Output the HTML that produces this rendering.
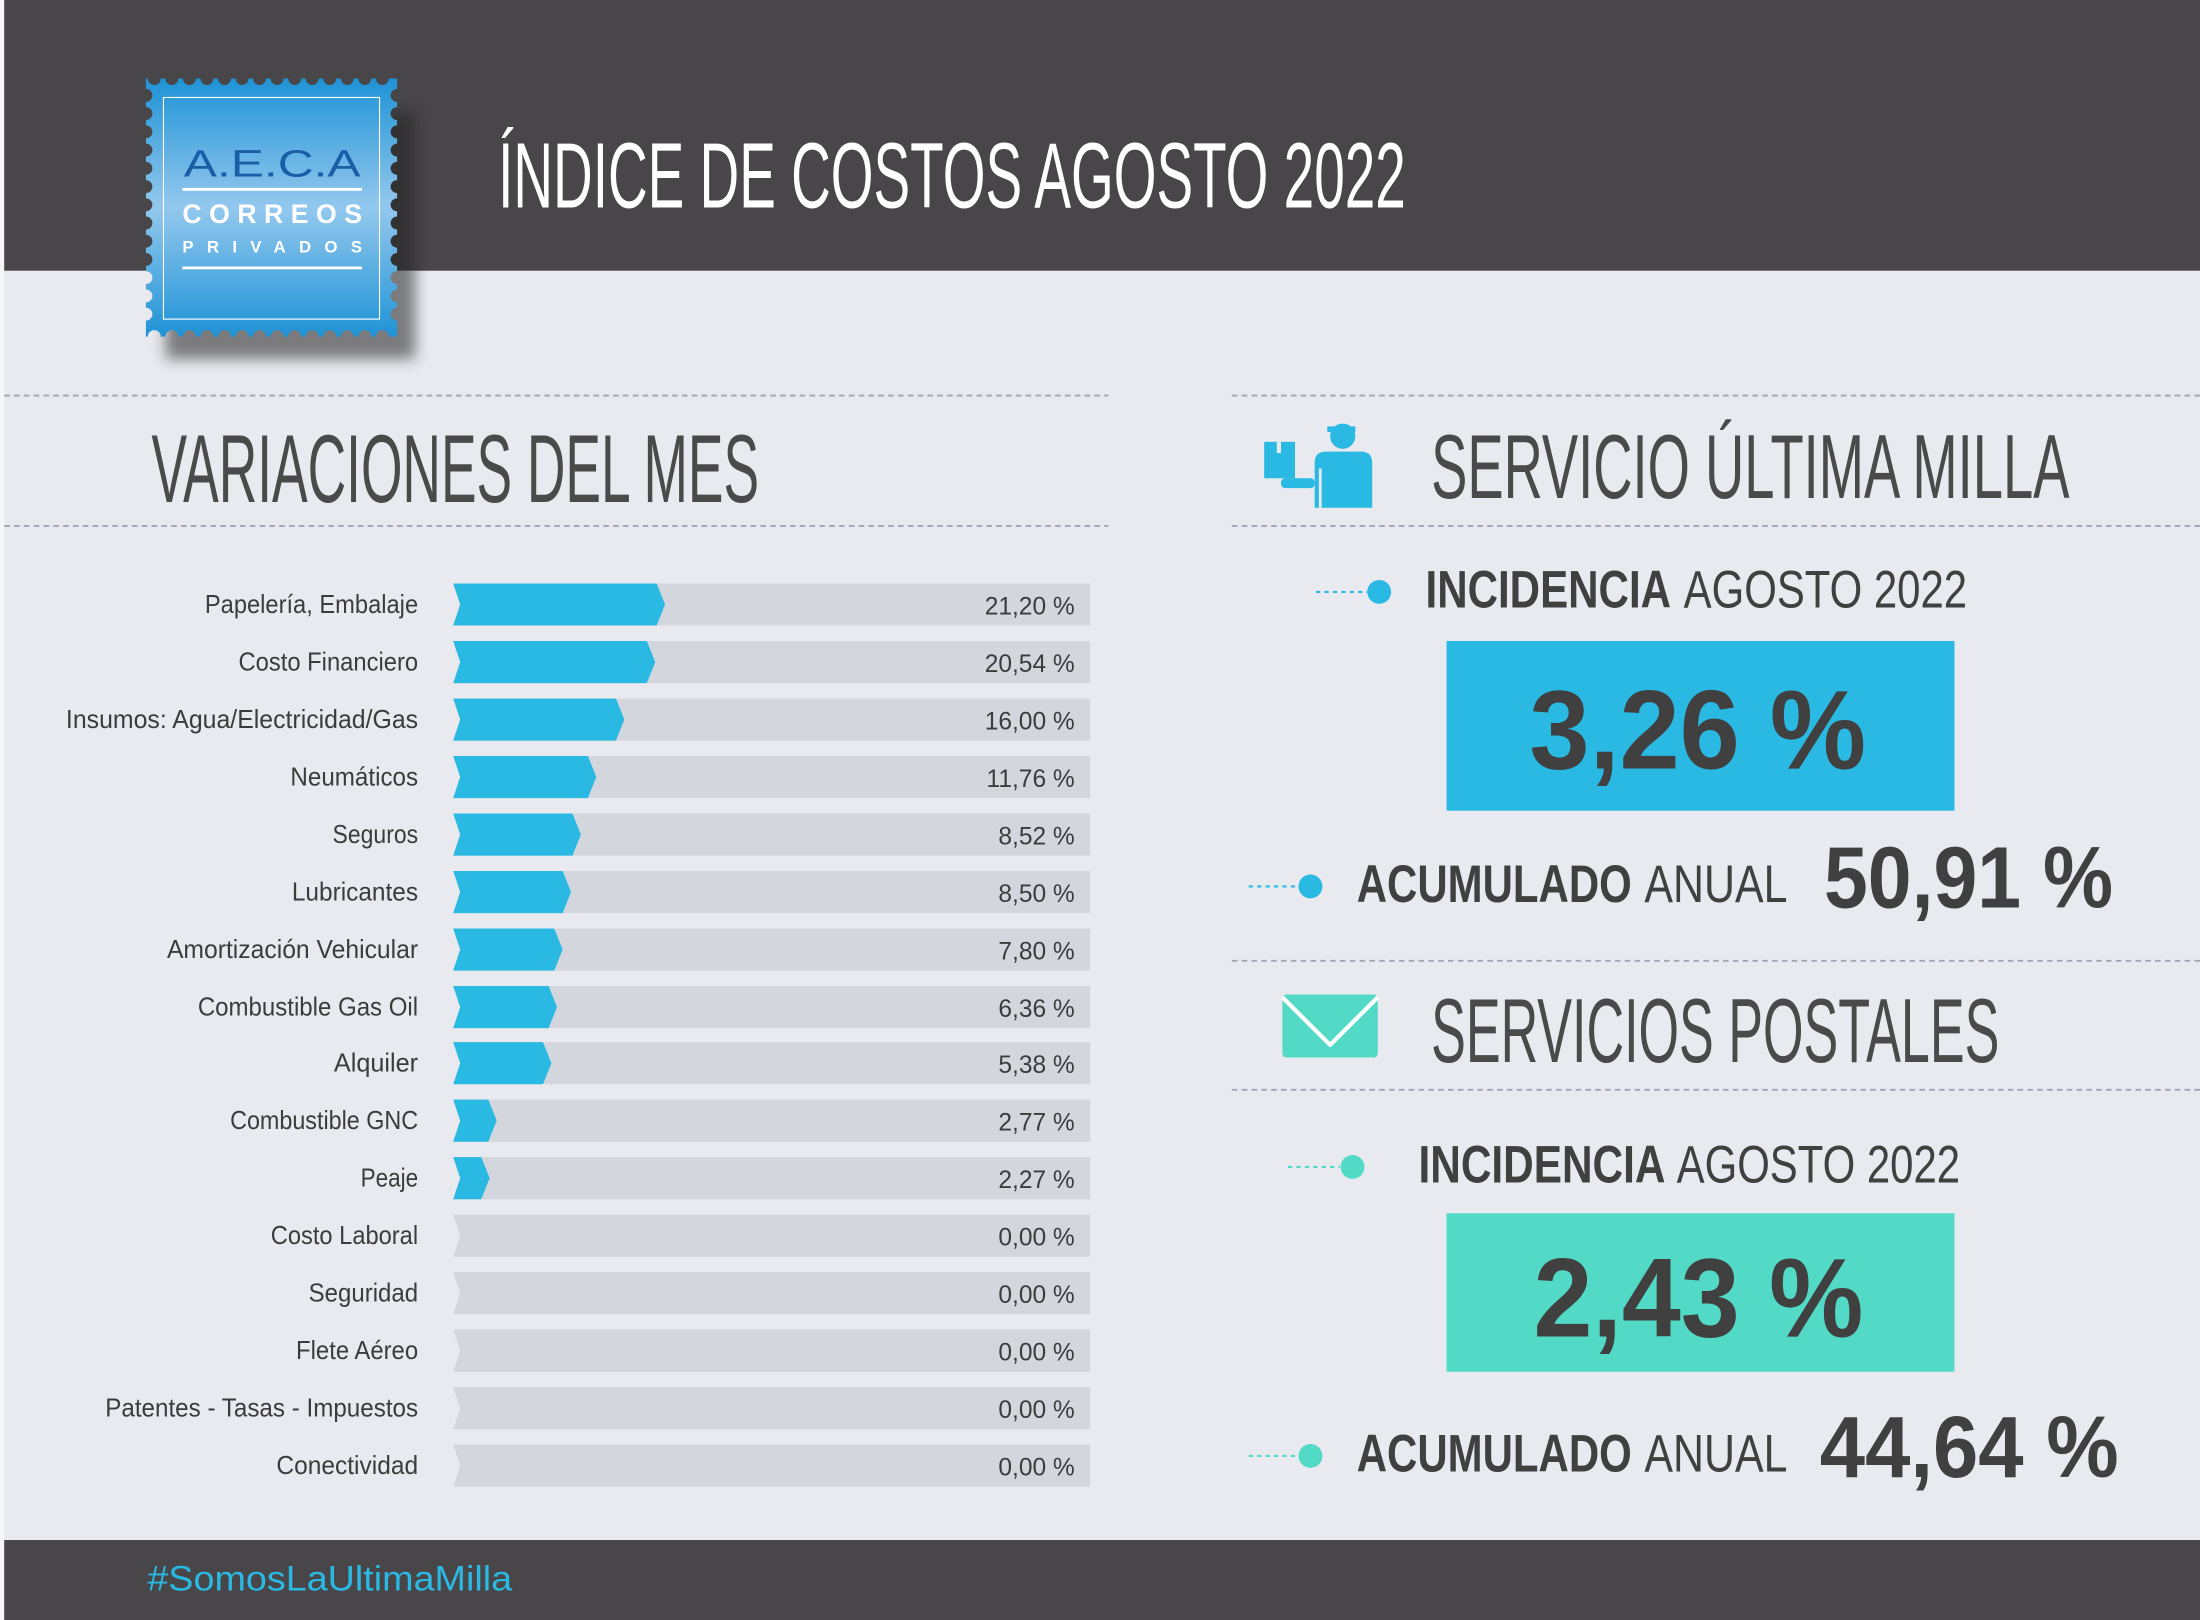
<!DOCTYPE html>
<html><head><meta charset="utf-8"><style>
html,body{margin:0;padding:0;background:#e9eaef;}
svg{display:block;}
text{font-family:"Liberation Sans Narrow","Liberation Sans",sans-serif;}
</style></head><body>
<svg width="2200" height="1620" viewBox="0 0 1568 1155" preserveAspectRatio="none" xmlns="http://www.w3.org/2000/svg">
<defs>
<linearGradient id="sg" x1="0" y1="0" x2="0" y2="1">
<stop offset="0" stop-color="#1f93d6"/><stop offset="0.5" stop-color="#93c8ee"/><stop offset="1" stop-color="#1f93d6"/>
</linearGradient>
<filter id="sh" x="-30%" y="-30%" width="160%" height="160%"><feGaussianBlur stdDeviation="5"/></filter>
<mask id="perf2">
<rect x="100" y="50" width="190" height="200" fill="#fff"/>
<g fill="#000">
<circle cx="110" cy="56" r="4.6"/><circle cx="122.5" cy="56" r="4.6"/><circle cx="135" cy="56" r="4.6"/><circle cx="147.5" cy="56" r="4.6"/><circle cx="160" cy="56" r="4.6"/><circle cx="172.5" cy="56" r="4.6"/><circle cx="185" cy="56" r="4.6"/><circle cx="197.5" cy="56" r="4.6"/><circle cx="210" cy="56" r="4.6"/><circle cx="222.5" cy="56" r="4.6"/><circle cx="235" cy="56" r="4.6"/><circle cx="247.5" cy="56" r="4.6"/><circle cx="260" cy="56" r="4.6"/><circle cx="272.5" cy="56" r="4.6"/>
<circle cx="110" cy="240" r="4.6"/><circle cx="122.5" cy="240" r="4.6"/><circle cx="135" cy="240" r="4.6"/><circle cx="147.5" cy="240" r="4.6"/><circle cx="160" cy="240" r="4.6"/><circle cx="172.5" cy="240" r="4.6"/><circle cx="185" cy="240" r="4.6"/><circle cx="197.5" cy="240" r="4.6"/><circle cx="210" cy="240" r="4.6"/><circle cx="222.5" cy="240" r="4.6"/><circle cx="235" cy="240" r="4.6"/><circle cx="247.5" cy="240" r="4.6"/><circle cx="260" cy="240" r="4.6"/><circle cx="272.5" cy="240" r="4.6"/>
<circle cx="104" cy="68" r="4.6"/><circle cx="104" cy="81" r="4.6"/><circle cx="104" cy="94" r="4.6"/><circle cx="104" cy="107" r="4.6"/><circle cx="104" cy="120" r="4.6"/><circle cx="104" cy="133" r="4.6"/><circle cx="104" cy="146" r="4.6"/><circle cx="104" cy="159" r="4.6"/><circle cx="104" cy="172" r="4.6"/><circle cx="104" cy="185" r="4.6"/><circle cx="104" cy="198" r="4.6"/><circle cx="104" cy="211" r="4.6"/><circle cx="104" cy="224" r="4.6"/>
<circle cx="283" cy="68" r="4.6"/><circle cx="283" cy="81" r="4.6"/><circle cx="283" cy="94" r="4.6"/><circle cx="283" cy="107" r="4.6"/><circle cx="283" cy="120" r="4.6"/><circle cx="283" cy="133" r="4.6"/><circle cx="283" cy="146" r="4.6"/><circle cx="283" cy="159" r="4.6"/><circle cx="283" cy="172" r="4.6"/><circle cx="283" cy="185" r="4.6"/><circle cx="283" cy="198" r="4.6"/><circle cx="283" cy="211" r="4.6"/><circle cx="283" cy="224" r="4.6"/>
</g>
</mask>
</defs>
<rect x="0" y="0" width="1568" height="1155" fill="#e9eaef"/>
<rect x="0" y="0" width="3" height="1155" fill="#f6f6f8"/>
<rect x="3" y="0" width="1565" height="193" fill="#484648"/>
<rect x="3" y="1098" width="1565" height="57" fill="#484648"/>
<text x="105" y="1134" font-size="25" fill="#29b9e3" textLength="260" lengthAdjust="spacingAndGlyphs" style="font-family:'Liberation Sans',sans-serif">#SomosLaUltimaMilla</text>

<rect x="118" y="80" width="178" height="176" fill="#222" opacity="0.55" filter="url(#sh)"/>
<rect x="104" y="56" width="179" height="184" fill="url(#sg)" mask="url(#perf2)"/>
<rect x="116.5" y="69.5" width="154" height="158" fill="none" stroke="#fff" stroke-width="0.8"/>
<text x="194" y="126" text-anchor="middle" font-size="27" fill="#1a5ea8" textLength="126" lengthAdjust="spacingAndGlyphs" style="font-family:'Liberation Sans',sans-serif">A.E.C.A</text>
<rect x="130" y="134" width="128" height="2" fill="#fff"/>
<text x="194" y="159" text-anchor="middle" font-size="19" font-weight="bold" fill="#fff" textLength="128" lengthAdjust="spacing" style="font-family:'Liberation Sans',sans-serif">CORREOS</text>
<text x="194" y="180" text-anchor="middle" font-size="12" font-weight="bold" fill="#fff" textLength="128" lengthAdjust="spacing" style="font-family:'Liberation Sans',sans-serif">PRIVADOS</text>
<rect x="130" y="190" width="128" height="2" fill="#fff"/>

<text x="355" y="148" font-size="66" fill="#fff" textLength="647" lengthAdjust="spacingAndGlyphs">ÍNDICE DE COSTOS AGOSTO 2022</text>

<g stroke="#a3a4b4" stroke-width="1.3" stroke-dasharray="4 3">
<line x1="3" y1="282" x2="790" y2="282"/><line x1="3" y1="375" x2="790" y2="375"/>
<line x1="878" y1="282" x2="1568" y2="282"/><line x1="878" y1="375" x2="1568" y2="375"/>
<line x1="878" y1="685" x2="1568" y2="685"/><line x1="878" y1="777" x2="1568" y2="777"/>
</g>
<text x="108" y="358" font-size="69" fill="#4a4a4a" textLength="433" lengthAdjust="spacingAndGlyphs">VARIACIONES DEL MES</text>

<g fill="#d4d6de">
<polygon points="323,416 777,416 777,446 323,446 328,431"/>
<polygon points="323,457 777,457 777,487 323,487 328,472"/>
<polygon points="323,498 777,498 777,528 323,528 328,513"/>
<polygon points="323,539 777,539 777,569 323,569 328,554"/>
<polygon points="323,580 777,580 777,610 323,610 328,595"/>
<polygon points="323,621 777,621 777,651 323,651 328,636"/>
<polygon points="323,662 777,662 777,692 323,692 328,677"/>
<polygon points="323,703 777,703 777,733 323,733 328,718"/>
<polygon points="323,743 777,743 777,773 323,773 328,758"/>
<polygon points="323,784 777,784 777,814 323,814 328,799"/>
<polygon points="323,825 777,825 777,855 323,855 328,840"/>
<polygon points="323,866 777,866 777,896 323,896 328,881"/>
<polygon points="323,907 777,907 777,937 323,937 328,922"/>
<polygon points="323,948 777,948 777,978 323,978 328,963"/>
<polygon points="323,989 777,989 777,1019 323,1019 328,1004"/>
<polygon points="323,1030 777,1030 777,1060 323,1060 328,1045"/>
</g>
<g fill="#29b9e3">
<polygon points="323,416 468,416 474,431 468,446 323,446 328,431"/>
<polygon points="323,457 461,457 467,472 461,487 323,487 328,472"/>
<polygon points="323,498 439,498 445,513 439,528 323,528 328,513"/>
<polygon points="323,539 419,539 425,554 419,569 323,569 328,554"/>
<polygon points="323,580 408,580 414,595 408,610 323,610 328,595"/>
<polygon points="323,621 401,621 407,636 401,651 323,651 328,636"/>
<polygon points="323,662 395,662 401,677 395,692 323,692 328,677"/>
<polygon points="323,703 391,703 397,718 391,733 323,733 328,718"/>
<polygon points="323,743 387,743 393,758 387,773 323,773 328,758"/>
<polygon points="323,784 348,784 354,799 348,814 323,814 328,799"/>
<polygon points="323,825 343,825 349,840 343,855 323,855 328,840"/>
</g>
<g font-size="18.5" fill="#3c3c3c" text-anchor="end" lengthAdjust="spacingAndGlyphs">
<text x="298" y="437" textLength="152" lengthAdjust="spacingAndGlyphs">Papelería, Embalaje</text>
<text x="298" y="478" textLength="128" lengthAdjust="spacingAndGlyphs">Costo Financiero</text>
<text x="298" y="519" textLength="251" lengthAdjust="spacingAndGlyphs">Insumos: Agua/Electricidad/Gas</text>
<text x="298" y="560" textLength="91" lengthAdjust="spacingAndGlyphs">Neumáticos</text>
<text x="298" y="601" textLength="61" lengthAdjust="spacingAndGlyphs">Seguros</text>
<text x="298" y="642" textLength="90" lengthAdjust="spacingAndGlyphs">Lubricantes</text>
<text x="298" y="683" textLength="179" lengthAdjust="spacingAndGlyphs">Amortización Vehicular</text>
<text x="298" y="724" textLength="157" lengthAdjust="spacingAndGlyphs">Combustible Gas Oil</text>
<text x="298" y="764" textLength="60" lengthAdjust="spacingAndGlyphs">Alquiler</text>
<text x="298" y="805" textLength="134" lengthAdjust="spacingAndGlyphs">Combustible GNC</text>
<text x="298" y="846" textLength="41" lengthAdjust="spacingAndGlyphs">Peaje</text>
<text x="298" y="887" textLength="105" lengthAdjust="spacingAndGlyphs">Costo Laboral</text>
<text x="298" y="928" textLength="78" lengthAdjust="spacingAndGlyphs">Seguridad</text>
<text x="298" y="969" textLength="87" lengthAdjust="spacingAndGlyphs">Flete Aéreo</text>
<text x="298" y="1010" textLength="223" lengthAdjust="spacingAndGlyphs">Patentes - Tasas - Impuestos</text>
<text x="298" y="1051" textLength="101" lengthAdjust="spacingAndGlyphs">Conectividad</text>
</g>
<g font-size="17.5" fill="#3c3c3c" text-anchor="end">
<text x="766" y="438">21,20 %</text>
<text x="766" y="479">20,54 %</text>
<text x="766" y="520">16,00 %</text>
<text x="766" y="561">11,76 %</text>
<text x="766" y="602">8,52 %</text>
<text x="766" y="643">8,50 %</text>
<text x="766" y="684">7,80 %</text>
<text x="766" y="725">6,36 %</text>
<text x="766" y="765">5,38 %</text>
<text x="766" y="806">2,77 %</text>
<text x="766" y="847">2,27 %</text>
<text x="766" y="888">0,00 %</text>
<text x="766" y="929">0,00 %</text>
<text x="766" y="970">0,00 %</text>
<text x="766" y="1011">0,00 %</text>
<text x="766" y="1052">0,00 %</text>
</g>

<g fill="#29b9e3">
<rect x="901" y="315" width="22" height="26"/>
<rect x="910" y="315" width="3" height="8" fill="#e9eaef"/>
<rect x="913" y="341" width="24" height="7" rx="3"/>
<circle cx="957" cy="311" r="9"/>
<rect x="946" y="304" width="20" height="4"/>
<path d="M937 348 V330 Q937 322 945 322 H970 Q978 322 978 330 V362 H937 Z"/>
<rect x="940" y="334" width="2" height="28" fill="#e9eaef"/>
</g>
<text x="1020" y="355" font-size="65" fill="#4a4a4a" textLength="455" lengthAdjust="spacingAndGlyphs">SERVICIO ÚLTIMA MILLA</text>

<rect x="914" y="709" width="68" height="45" rx="3" fill="#52dac6"/>
<polyline points="914,711 948,745 982,711" fill="none" stroke="#fff" stroke-width="3" stroke-linejoin="round"/>
<text x="1020" y="757" font-size="65" fill="#4a4a4a" textLength="405" lengthAdjust="spacingAndGlyphs">SERVICIOS POSTALES</text>

<line x1="938" y1="422" x2="975" y2="422" stroke="#29b9e3" stroke-width="1.5" stroke-dasharray="3 3"/>
<circle cx="983" cy="422" r="8.5" fill="#29b9e3"/>
<text x="1016" y="433" font-size="38" font-weight="bold" fill="#404040" textLength="175" lengthAdjust="spacingAndGlyphs">INCIDENCIA</text>
<text x="1200" y="433" font-size="38" fill="#404040" textLength="202" lengthAdjust="spacingAndGlyphs">AGOSTO 2022</text>
<rect x="1031" y="457" width="362" height="121" fill="#29b9e3"/>
<text x="1090" y="548" font-size="80" font-weight="bold" fill="#404040" textLength="240" lengthAdjust="spacingAndGlyphs">3,26 %</text>

<line x1="890" y1="632" x2="925" y2="632" stroke="#29b9e3" stroke-width="1.5" stroke-dasharray="3 3"/>
<circle cx="934" cy="632" r="8.5" fill="#29b9e3"/>
<text x="967" y="643" font-size="38" font-weight="bold" fill="#404040" textLength="196" lengthAdjust="spacingAndGlyphs">ACUMULADO</text>
<text x="1172" y="643" font-size="38" fill="#404040" textLength="102" lengthAdjust="spacingAndGlyphs">ANUAL</text>
<text x="1300" y="647" font-size="62" font-weight="bold" fill="#404040" textLength="206" lengthAdjust="spacingAndGlyphs">50,91 %</text>

<line x1="918" y1="832" x2="955" y2="832" stroke="#52dac6" stroke-width="1.5" stroke-dasharray="3 3"/>
<circle cx="964" cy="832" r="8.5" fill="#52dac6"/>
<text x="1011" y="843" font-size="38" font-weight="bold" fill="#404040" textLength="176" lengthAdjust="spacingAndGlyphs">INCIDENCIA</text>
<text x="1195" y="843" font-size="38" fill="#404040" textLength="202" lengthAdjust="spacingAndGlyphs">AGOSTO 2022</text>
<rect x="1031" y="865" width="362" height="113" fill="#52dac6"/>
<text x="1093" y="953" font-size="80" font-weight="bold" fill="#404040" textLength="235" lengthAdjust="spacingAndGlyphs">2,43 %</text>

<line x1="890" y1="1038" x2="925" y2="1038" stroke="#52dac6" stroke-width="1.5" stroke-dasharray="3 3"/>
<circle cx="934" cy="1038" r="8.5" fill="#52dac6"/>
<text x="967" y="1049" font-size="38" font-weight="bold" fill="#404040" textLength="196" lengthAdjust="spacingAndGlyphs">ACUMULADO</text>
<text x="1172" y="1049" font-size="38" fill="#404040" textLength="102" lengthAdjust="spacingAndGlyphs">ANUAL</text>
<text x="1297" y="1053" font-size="62" font-weight="bold" fill="#404040" textLength="213" lengthAdjust="spacingAndGlyphs">44,64 %</text>
</svg>
</body></html>
